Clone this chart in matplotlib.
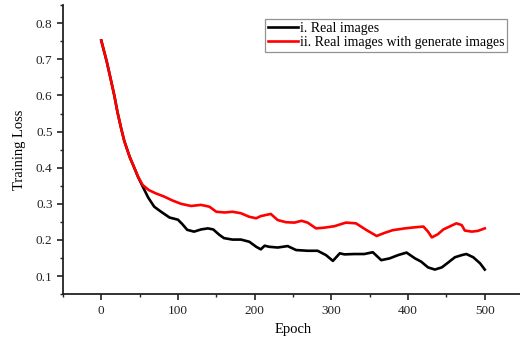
import matplotlib.pyplot as plt
from matplotlib.ticker import MultipleLocator

# Training loss per epoch, read at irregular epochs
epoch_real = [0, 7, 12, 17, 21, 26, 30, 37, 43, 48, 54, 61, 69, 78, 89, 100,
              106, 112, 121, 130, 139, 146, 154, 160, 171, 182, 193, 202, 208,
              213, 219, 230, 243, 254, 269, 282, 293, 302, 311, 317, 330, 343,
              354, 365, 376, 387, 398, 409, 417, 426, 435, 444, 452, 461, 470,
              476, 485, 494, 500]
loss_real = [0.752, 0.695, 0.648, 0.600, 0.555, 0.508, 0.474, 0.430, 0.400,
             0.374, 0.348, 0.318, 0.292, 0.278, 0.262, 0.256, 0.243, 0.228,
             0.223, 0.229, 0.232, 0.229, 0.214, 0.205, 0.201, 0.201, 0.195,
             0.181, 0.174, 0.184, 0.181, 0.179, 0.183, 0.172, 0.170, 0.170,
             0.158, 0.142, 0.163, 0.160, 0.161, 0.161, 0.166, 0.144, 0.149,
             0.158, 0.165, 0.149, 0.140, 0.124, 0.118, 0.124, 0.137, 0.152,
             0.158, 0.161, 0.152, 0.135, 0.118]

epoch_gen = [0, 7, 12, 17, 21, 26, 30, 37, 43, 48, 54, 62, 71, 82, 93, 104,
             117, 130, 141, 150, 161, 171, 182, 193, 202, 208, 221, 230, 241,
             252, 261, 269, 280, 291, 304, 319, 332, 346, 359, 370, 380, 396,
             409, 420, 426, 431, 439, 446, 454, 463, 470, 474, 483, 491, 500]
loss_gen = [0.752, 0.695, 0.648, 0.600, 0.555, 0.508, 0.474, 0.430, 0.400,
            0.375, 0.352, 0.338, 0.329, 0.320, 0.309, 0.300, 0.294, 0.297,
            0.292, 0.278, 0.276, 0.278, 0.274, 0.264, 0.260, 0.266, 0.272,
            0.255, 0.249, 0.248, 0.253, 0.248, 0.232, 0.234, 0.238, 0.248,
            0.246, 0.227, 0.211, 0.220, 0.227, 0.232, 0.235, 0.237, 0.223,
            0.207, 0.216, 0.229, 0.237, 0.246, 0.241, 0.226, 0.223, 0.225,
            0.232]

labels = ['i. Real images', 'ii. Real images with generate images']

plt.rcParams['font.family'] = ['Liberation Serif', 'DejaVu Serif']

fig = plt.figure(figsize=(5.2, 3.42), dpi=100)
ax = fig.add_axes([0.121, 0.140, 0.885, 0.845])

ax.plot(epoch_real, loss_real, color='black', lw=1.9, label=labels[0])
ax.plot(epoch_gen, loss_gen, color='red', lw=1.9, label=labels[1])

ax.set_xlim(-50, 550)
ax.set_ylim(0.05, 0.85)
ax.xaxis.set_major_locator(MultipleLocator(100))
ax.xaxis.set_minor_locator(MultipleLocator(50))
ax.yaxis.set_major_locator(MultipleLocator(0.1))
ax.yaxis.set_minor_locator(MultipleLocator(0.05))
ax.set_xticks([0, 100, 200, 300, 400, 500])

for side in ['top', 'right']:
    ax.spines[side].set_visible(False)
for side in ['left', 'bottom']:
    ax.spines[side].set_linewidth(1.3)
    ax.spines[side].set_color('#222222')

ax.tick_params(which='major', direction='out', length=4, width=1.2,
               labelsize=9.5, colors='#222222')
ax.tick_params(which='minor', direction='out', length=2.5, width=1.0,
               colors='#222222')

ax.set_xlabel('Epoch', fontsize=10.5, labelpad=5)
ax.set_ylabel('Training Loss', fontsize=10.5, labelpad=7)

leg = ax.legend(loc='upper right', bbox_to_anchor=(0.965, 0.952), fontsize=10,
                frameon=True, fancybox=False, handlelength=2.2,
                handletextpad=0.1, borderpad=0.2, labelspacing=0.1,
                borderaxespad=0)
leg.get_frame().set_edgecolor('#777777')
leg.get_frame().set_linewidth(0.9)

fig.savefig('out.png', dpi=100)
